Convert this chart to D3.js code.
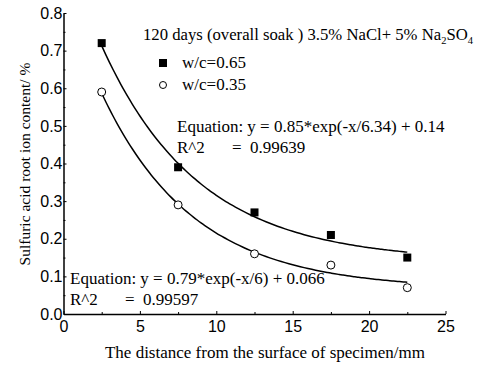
<!DOCTYPE html>
<html><head><meta charset="utf-8">
<script src="https://cdn.jsdelivr.net/npm/d3@7"></script>
<style>body{margin:0;background:#fff}svg{display:block}</style>
</head><body>
<script>
const xValues = [2.5, 7.5, 12.5, 17.5, 22.5];
const series065 = [0.72, 0.39, 0.27, 0.21, 0.15];
const series035 = [0.59, 0.29, 0.16, 0.13, 0.07];
const fit065 = {a: 0.85, t: 6.34, c: 0.14};
const fit035 = {a: 0.79, t: 6, c: 0.066};
const xTicks = [0, 5, 10, 15, 20, 25];
const yTicks = [0.0, 0.1, 0.2, 0.3, 0.4, 0.5, 0.6, 0.7, 0.8];

const W = 481, H = 367;
const svg = d3.select("body").append("svg").attr("width", W).attr("height", H);
const x = d3.scaleLinear().domain([0, 25]).range([63.5, 445.5]);
const y = d3.scaleLinear().domain([0, 0.8]).range([314, 13]);
const sans = "Liberation Sans, Arial, sans-serif";
const serif = "Liberation Serif, Times New Roman, serif";
const FS = 17;

// axes
const gx = svg.append("g").attr("transform", `translate(0,${y(0)})`)
  .call(d3.axisBottom(x).tickValues(xTicks).tickFormat(d3.format("d")).tickSizeInner(-3).tickSizeOuter(0).tickPadding(7));
gx.select(".domain").attr("stroke-width", 1.5);
gx.selectAll("text").attr("font-family", sans).attr("font-size", 16).attr("fill", "#000");
svg.append("g").attr("transform", `translate(0,${y(0)})`)
  .call(d3.axisBottom(x).tickValues(d3.range(2.5, 25, 5)).tickFormat("").tickSizeInner(-2).tickSizeOuter(0))
  .select(".domain").remove();

const gy = svg.append("g").attr("transform", `translate(${x(0)},0)`)
  .call(d3.axisLeft(y).tickValues(yTicks).tickFormat(d3.format(".1f")).tickSizeInner(-3).tickSizeOuter(0).tickPadding(1));
gy.select(".domain").attr("stroke-width", 1.5);
gy.selectAll("text").attr("font-family", sans).attr("font-size", 16).attr("fill", "#000");
svg.append("g").attr("transform", `translate(${x(0)},0)`)
  .call(d3.axisLeft(y).tickValues(d3.range(0.05, 0.8, 0.1)).tickFormat("").tickSizeInner(-2).tickSizeOuter(0))
  .select(".domain").remove();

// fit curves
function curve(f) {
  return d3.range(2.5, 22.5001, 0.25).map(v => [v, f.a * Math.exp(-v / f.t) + f.c]);
}
const line = d3.line().x(d => x(d[0])).y(d => y(d[1])).curve(d3.curveMonotoneX);
[fit065, fit035].forEach(f => {
  svg.append("path").attr("d", line(curve(f))).attr("fill", "none").attr("stroke", "#000").attr("stroke-width", 1.5);
});

// points
svg.selectAll(".sq").data(xValues.map((v, i) => [v, series065[i]])).enter().append("rect")
  .attr("x", d => x(d[0]) - 4).attr("y", d => y(d[1]) - 4).attr("width", 8).attr("height", 8).attr("fill", "#000");
svg.selectAll(".ci").data(xValues.map((v, i) => [v, series035[i]])).enter().append("circle")
  .attr("cx", d => x(d[0])).attr("cy", d => y(d[1])).attr("r", 4).attr("fill", "#fff").attr("stroke", "#000").attr("stroke-width", 1);

// texts
const t = svg.append("text").attr("x", 143).attr("y", 40).attr("font-family", serif).attr("font-size", 16.7).attr("fill", "#000");
t.append("tspan").text("120 days (overall soak ) 3.5% NaCl+ 5% Na");
t.append("tspan").attr("font-size", 10.5).attr("dy", 4).text("2");
t.append("tspan").attr("font-size", 16.7).attr("dy", -4).text("SO");
t.append("tspan").attr("font-size", 10.5).attr("dy", 4).text("4");

svg.append("rect").attr("x", 159).attr("y", 59).attr("width", 8).attr("height", 8).attr("fill", "#000");
svg.append("circle").attr("cx", 163).attr("cy", 85).attr("r", 3.5).attr("fill", "#fff").attr("stroke", "#000");
svg.append("text").attr("x", 182).attr("y", 68).attr("font-family", serif).attr("font-size", FS).text("w/c=0.65");
svg.append("text").attr("x", 182).attr("y", 90).attr("font-family", serif).attr("font-size", FS).text("w/c=0.35");

function eqText(x0, y0, eq, r2) {
  svg.append("text").attr("x", x0).attr("y", y0).attr("font-family", serif).attr("font-size", FS).text(eq);
  svg.append("text").attr("x", x0).attr("y", y0 + 21).attr("font-family", serif).attr("font-size", FS).text("R^2");
  svg.append("text").attr("x", x0 + 55).attr("y", y0 + 21).attr("font-family", serif).attr("font-size", FS)
    .attr("xml:space", "preserve").style("white-space", "pre").text("=  " + r2);
}
eqText(177, 132, "Equation: y = 0.85*exp(-x/6.34) + 0.14", "0.99639");
eqText(70, 284, "Equation: y = 0.79*exp(-x/6) + 0.066", "0.99597");

svg.append("text").attr("x", 265).attr("y", 358).attr("text-anchor", "middle")
  .attr("font-family", serif).attr("font-size", FS).text("The distance from the surface of specimen/mm");
svg.append("text").attr("transform", `translate(30,164) rotate(-90)`).attr("text-anchor", "middle")
  .attr("font-family", serif).attr("font-size", 15.5).text("Sulfuric acid root ion content/ %");
</script>
</body></html>
